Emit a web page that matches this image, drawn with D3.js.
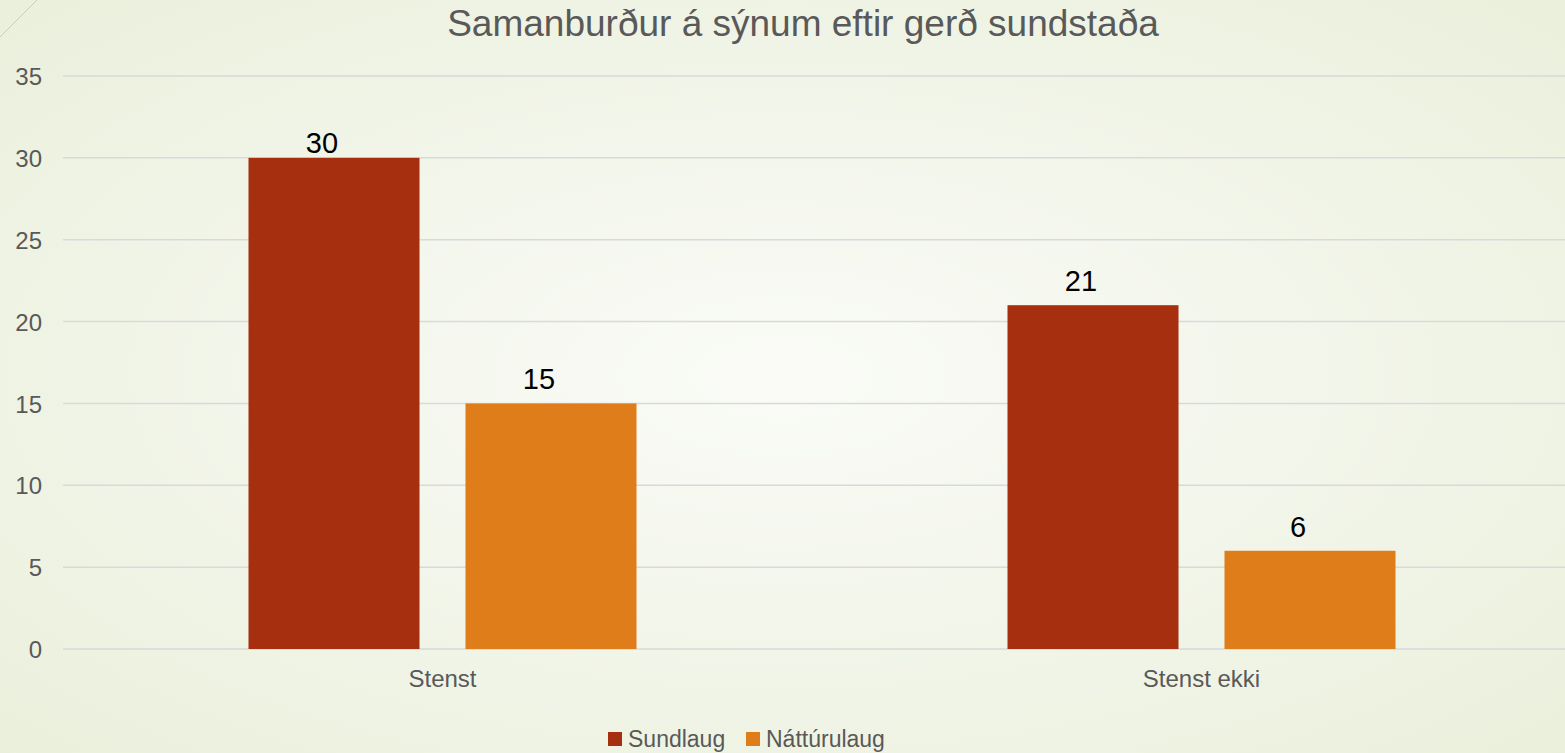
<!DOCTYPE html>
<html>
<head>
<meta charset="utf-8">
<script src="https://cdn.jsdelivr.net/npm/d3@7"></script>
<style>
  html, body { margin: 0; padding: 0; overflow: hidden; }
  body { font-family: "Liberation Sans", Arial, sans-serif; }
</style>
</head>
<body>
<script>
var categories = ['Stenst', 'Stenst ekki'];
var seriesNames = ['Sundlaug', 'Náttúrulaug'];
var sundlaug = [30, 21];
var natturulaug = [15, 6];
var yTicks = [0, 5, 10, 15, 20, 25, 30, 35];
var colors = ['#A52F0F', '#DE7D19'];

var W = 1565, H = 753;
var margin = {top: 76, left: 63, bottom: 104};
var plotRight = 1581;

var svg = d3.select('body').append('svg')
    .attr('width', W)
    .attr('height', H);

//background
var defs = svg.append('defs');
var grad = defs.append('radialGradient')
    .attr('id', 'bg')
    .attr('cx', '50%').attr('cy', '50%').attr('r', '75%');
grad.append('stop').attr('offset', '0%').attr('stop-color', '#FAFBF7');
grad.append('stop').attr('offset', '100%').attr('stop-color', '#E9EFDA');
svg.append('rect')
    .attr('width', W).attr('height', H)
    .attr('fill', 'url(#bg)');

svg.append('line')
    .attr('x1', 0).attr('y1', 37)
    .attr('x2', 37).attr('y2', 0)
    .attr('stroke', '#C9CDBB')
    .attr('stroke-width', 1);

//scales
var yScale = d3.scaleLinear()
    .domain([0, 35])
    .range([H - margin.bottom, margin.top]);

var xScale = d3.scaleBand()
    .domain(categories)
    .range([margin.left, plotRight])
    .paddingInner(0)
    .paddingOuter(0);

var step = xScale.bandwidth();
var barWidth = step * 0.2253;
var gap = step * 0.0606;

var dataset = [];
categories.forEach(function (c, i) {
    dataset.push({cat: c, s: 0, value: sundlaug[i]});
    dataset.push({cat: c, s: 1, value: natturulaug[i]});
});

function barX(d) {
    var center = xScale(d.cat) + step / 2;
    return d.s === 0 ? center - gap / 2 - barWidth : center + gap / 2;
}

//gridlines
svg.append('g').selectAll('line')
    .data(yTicks)
    .enter().append('line')
    .attr('x1', margin.left)
    .attr('x2', W)
    .attr('y1', function (d) { return yScale(d); })
    .attr('y2', function (d) { return yScale(d); })
    .attr('stroke', '#D9D9D9')
    .attr('stroke-width', 1.5);

//y labels
svg.append('g').selectAll('text')
    .data(yTicks)
    .enter().append('text')
    .attr('x', 42)
    .attr('y', function (d) { return yScale(d); })
    .attr('dy', '0.38em')
    .attr('text-anchor', 'end')
    .attr('font-size', 24)
    .attr('fill', '#595959')
    .text(function (d) { return d; });

//bars
svg.append('g').selectAll('rect')
    .data(dataset)
    .enter().append('rect')
    .attr('x', barX)
    .attr('y', function (d) { return yScale(d.value); })
    .attr('width', barWidth)
    .attr('height', function (d) { return yScale(0) - yScale(d.value); })
    .attr('fill', function (d) { return colors[d.s]; });

//data labels (kept inside the plot area at the top)
svg.append('g').selectAll('text')
    .data(dataset)
    .enter().append('text')
    .attr('x', function (d) { return barX(d) + barWidth / 2 - 12; })
    .attr('y', function (d) { return Math.max(yScale(d.value) - 14, 153); })
    .attr('text-anchor', 'middle')
    .attr('font-size', 29)
    .attr('fill', '#000')
    .text(function (d) { return d.value; });

//category labels
svg.append('g').selectAll('text')
    .data(categories)
    .enter().append('text')
    .attr('x', function (d) { return xScale(d) + step / 2; })
    .attr('y', 687)
    .attr('text-anchor', 'middle')
    .attr('font-size', 24)
    .attr('fill', '#595959')
    .text(function (d) { return d; });

//title
svg.append('text')
    .attr('x', 803)
    .attr('y', 36)
    .attr('text-anchor', 'middle')
    .attr('font-size', 37)
    .attr('fill', '#595959')
    .text('Samanburður á sýnum eftir gerð sundstaða');

//legend
var legendX = [608, 746];
var legend = svg.append('g').selectAll('g')
    .data(seriesNames)
    .enter().append('g')
    .attr('transform', function (d, i) { return 'translate(' + legendX[i] + ',0)'; });

legend.append('rect')
    .attr('x', 0).attr('y', 732)
    .attr('width', 14).attr('height', 14)
    .attr('fill', function (d, i) { return colors[i]; });

legend.append('text')
    .attr('x', 20)
    .attr('y', 747)
    .attr('font-size', 23)
    .attr('fill', '#595959')
    .text(function (d) { return d; });
</script>
</body>
</html>
